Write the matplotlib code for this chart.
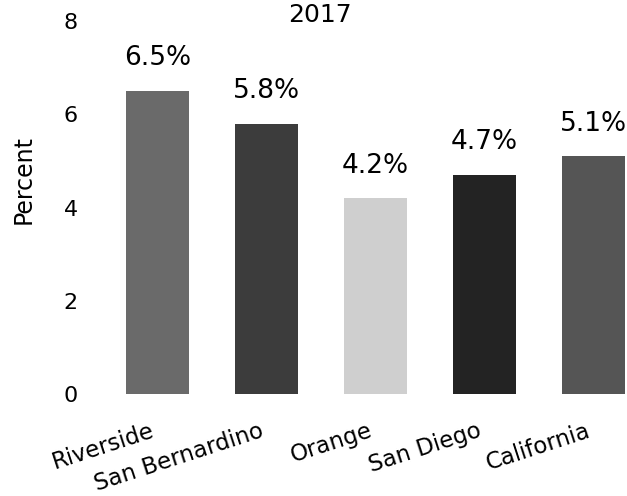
import matplotlib
matplotlib.use('Agg')
import matplotlib.pyplot as plt

# county rates, 2017
counties = ['Riverside', 'San Bernardino', 'Orange', 'San Diego', 'California']
rates = [6.5, 5.8, 4.2, 4.7, 5.1]
bar_colors = ['#6a6a6a', '#3c3c3c', '#cfcfcf', '#232323', '#555555']
y_ticks = [0, 2, 4, 6, 8]

plt.rcParams['font.family'] = ['DejaVu Sans']

fig = plt.figure(figsize=(6.27, 4.96), dpi=100)
ax = fig.add_axes([100 / 627, 102 / 496, 527 / 627, 373 / 496])

x = range(len(counties))
ax.bar(x, rates, width=0.58, color=bar_colors)

# value labels over each bar
for i, r in zip(x, rates):
    ax.text(i, r + 0.42, f'{r}%', ha='center', va='bottom', fontsize=19)

ax.set_xlim(-0.528, 4.307)
ax.set_ylim(0, 8)
ax.set_yticks(y_ticks)
ax.set_yticklabels([str(t) for t in y_ticks], fontsize=16)
ax.tick_params(axis='y', length=0, pad=16)
ax.set_xticks(list(x))
ax.set_xticklabels(counties, rotation=18, ha='right', fontsize=16.5)
ax.tick_params(axis='x', length=0, pad=18)

for s in ax.spines.values():
    s.set_visible(False)

ax.set_ylabel('Percent', fontsize=17)
ax.yaxis.set_label_coords(-0.123, 0.574)

fig.text(320 / 627, 1 - 22 / 496, '2017', ha='center', va='baseline', fontsize=18)

fig.savefig('out.png', dpi=100)
